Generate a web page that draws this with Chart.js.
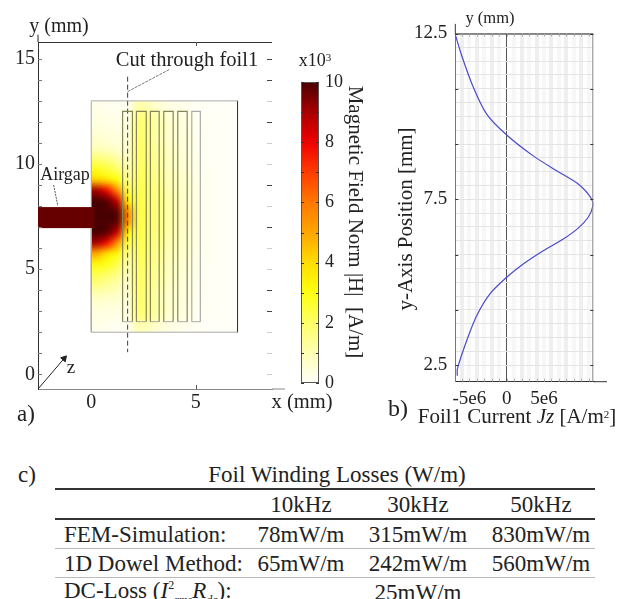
<!DOCTYPE html>
<html lang="en">
<head>
<meta charset="utf-8">
<title>Foil winding field and losses</title>
<script src="https://cdn.jsdelivr.net/npm/chart.js"></script>
<style>
  html, body { margin: 0; padding: 0; background: #fff; }
  body { width: 623px; height: 599px; position: relative; overflow: hidden; font-family: "Liberation Serif", serif; color: #222; }
  canvas { position: absolute; }
  .lbl { position: absolute; white-space: nowrap; line-height: 1; transform: translate(-50%, -50%); }
  #losses { position: absolute; left: 55px; top: 488px; width: 540px; border-collapse: collapse; font-size: 23px; table-layout: fixed; }
  #losses td { padding: 0; height: 28px; text-align: center; white-space: nowrap; line-height: 1; border-bottom: 1px solid #bbb; }
  #losses tr:nth-child(1) td { border-top: 2px solid #333; border-bottom: 2px solid #333; }
  #losses tr:last-child td { border-bottom: 0; }
  #losses td:first-child { text-align: left; padding-left: 9px; }
  sub { font-size: 12px; font-style: italic; } sup { font-size: 12px; }
</style>
</head>
<body>
<canvas id="fieldChart" width="290" height="430" style="left:0;top:0"></canvas>
<canvas id="barChart" width="56" height="340" style="left:290px;top:60px"></canvas>
<canvas id="currentChart" width="213" height="420" style="left:410px;top:10px"></canvas>
<div id="notes"></div>
<table id="losses"></table>

<script>
// a) field plot, all in mm
const xTicksA = [0, 5];
const yLabelsA = [0, 5, 10, 15];
const darkRightTicks = [15, 14, 12, 9, 7, 4, 3];

// |H| in kA/m, rows from y=12.75 down to y=2.25 (0.5 mm), columns x=0.25..6.75 (0.5 mm)
const fieldRows = [
  [0.2, 0.15, 0.1, 0.1, 1.1, 0.9, 0.5, 0.3, 0.2, 0.1, 0.04, 0.02, 0.01, 0],
  [0.3, 0.25, 0.2, 0.2, 1.7, 1.5, 0.9, 0.5, 0.35, 0.2, 0.08, 0.04, 0.02, 0.01],
  [0.4, 0.35, 0.3, 0.3, 1.9, 1.6, 1.0, 0.6, 0.4, 0.25, 0.1, 0.04, 0.02, 0.01],
  [0.6, 0.5, 0.4, 0.4, 1.9, 1.6, 1.0, 0.6, 0.45, 0.3, 0.12, 0.05, 0.03, 0.01],
  [0.9, 0.8, 0.6, 0.5, 2.0, 1.7, 1.1, 0.7, 0.5, 0.3, 0.12, 0.05, 0.03, 0.01],
  [1.8, 1.6, 1.2, 0.7, 2.0, 1.7, 1.2, 0.8, 0.55, 0.35, 0.15, 0.06, 0.03, 0.01],
  [2.8, 2.5, 2.0, 1.0, 2.1, 1.8, 1.3, 0.8, 0.6, 0.4, 0.15, 0.06, 0.03, 0.01],
  [4.2, 3.8, 3.0, 1.4, 2.2, 1.9, 1.4, 0.9, 0.7, 0.45, 0.18, 0.08, 0.04, 0.02],
  [9.0, 7.8, 5.5, 2.2, 2.3, 2.0, 1.5, 1.0, 0.75, 0.5, 0.2, 0.08, 0.04, 0.02],
  [10, 9.8, 8.5, 3.4, 2.4, 2.0, 1.6, 1.1, 0.8, 0.5, 0.2, 0.08, 0.04, 0.02],
  [10, 10, 9.8, 5.5, 2.4, 2.1, 1.6, 1.1, 0.8, 0.55, 0.2, 0.08, 0.04, 0.02],
  [10, 10, 9.8, 5.5, 2.4, 2.1, 1.6, 1.1, 0.8, 0.55, 0.2, 0.08, 0.04, 0.02],
  [10, 9.8, 8.5, 3.4, 2.4, 2.0, 1.6, 1.1, 0.8, 0.5, 0.2, 0.08, 0.04, 0.02],
  [9.0, 7.8, 5.5, 2.3, 2.3, 2.0, 1.5, 1.0, 0.75, 0.5, 0.2, 0.08, 0.04, 0.02],
  [5.0, 4.0, 3.2, 1.5, 2.2, 1.9, 1.4, 0.9, 0.7, 0.45, 0.18, 0.08, 0.04, 0.02],
  [3.2, 2.9, 2.3, 1.1, 2.1, 1.8, 1.3, 0.8, 0.6, 0.4, 0.15, 0.06, 0.03, 0.01],
  [2.3, 2.0, 1.6, 0.8, 2.0, 1.7, 1.2, 0.8, 0.55, 0.35, 0.15, 0.06, 0.03, 0.01],
  [1.6, 1.4, 1.1, 0.6, 2.0, 1.7, 1.1, 0.7, 0.5, 0.3, 0.12, 0.05, 0.03, 0.01],
  [0.9, 0.8, 0.7, 0.45, 1.9, 1.6, 1.0, 0.6, 0.45, 0.3, 0.12, 0.05, 0.03, 0.01],
  [0.5, 0.45, 0.4, 0.3, 1.9, 1.6, 1.0, 0.6, 0.4, 0.25, 0.1, 0.04, 0.02, 0.01],
  [0.3, 0.3, 0.2, 0.2, 1.7, 1.5, 0.9, 0.5, 0.35, 0.2, 0.08, 0.04, 0.02, 0.01],
  [0.2, 0.15, 0.1, 0.1, 1.0, 0.8, 0.5, 0.3, 0.2, 0.1, 0.04, 0.02, 0.01, 0]
];
const gapValue = 9.7;

// geometry of the model, mm
const coreLeft = 0, coreRight = 7, coreTop = 13, coreBottom = 2;
const gapTop = 7.95, gapBottom = 6.95;
const foilLeft = [1.5, 2.16, 2.83, 3.47, 4.14, 4.81];
const foilRight = [1.97, 2.63, 3.25, 3.92, 4.59, 5.22];
const foilTop = 12.5, foilBottom = 2.5;
const cutX = [1.74, 1.74], cutY = [14.15, 1.05];
const cutLeaderX = [1.74, 3.75], cutLeaderY = [13.44, 14.5];
const gapLeaderX = [-1.8, -1.6], gapLeaderY = [9, 8];
const zAxisX = [-2.55, -1.3], zAxisY = [-0.7, 0.75];

// colour scale
const barValues = [0, 1, 2, 3, 4, 5, 6, 7, 8, 9, 10];
const barColours = ['#fffff8', '#ffffb4', '#ffff66', '#ffff10', '#ffdd00', '#ffa500', '#ff7800', '#ff3c00', '#f00000', '#a80000', '#4a0000'];

// b) current density in the first foil
const currentX = [-6.83e6, -6.02e6, -4.47e6, -2.68e6, 0, 3.56e6, 6.69e6, 9.58e6, 11.38e6, 11.51e6, 10.92e6, 9.58e6, 7.58e6, 4.9e6, 2.22e6, 0, -2.24e6, -4.02e6, -5.35e6, -6.61e6, -6.61e6];
const currentY = [12.43, 11.83, 10.88, 10.07, 9.44, 8.81, 8.36, 7.96, 7.51, 7.27, 6.96, 6.63, 6.3, 5.95, 5.55, 5.15, 4.65, 3.99, 3.24, 2.38, 2.18];
const xGridB = [-6e6, -5e6, -4e6, -3e6, -2e6, -1e6, 0, 1e6, 2e6, 3e6, 4e6, 5e6, 6e6, 7e6, 8e6, 9e6, 10e6, 11e6];
const xLabelValuesB = [-5e6, 0, 5e6];
const xLabelsB = ['-5e6', '0', '5e6'];
const yLabelsB = [2.5, 7.5, 12.5];
const yMajorB = [2.5, 4.17, 5.83, 7.5, 9.17, 10.83, 12.5];

// c) table
const lossFreqs = ['10kHz', '30kHz', '50kHz'];
const femLosses = ['78mW/m', '315mW/m', '830mW/m'];
const dowelLosses = ['65mW/m', '242mW/m', '560mW/m'];
const dcLoss = '25mW/m';

Chart.defaults.font.family = '"Liberation Serif", serif';
Chart.defaults.color = '#222';
Chart.defaults.animation = false;

function colourAt(v) {
  const i = Math.min(barValues.length - 2, Math.floor(v));
  const t = v - barValues[i];
  const a = barColours[i], b = barColours[i + 1];
  return [1, 3, 5].map(p => {
    const ca = parseInt(a.substr(p, 2), 16), cb = parseInt(b.substr(p, 2), 16);
    return Math.round(ca + (cb - ca) * t);
  });
}

function path(xs, ys, extra) {
  return Object.assign({
    data: xs.map((x, i) => ({ x: x, y: ys[i] })),
    showLine: true, pointRadius: 0, borderWidth: 1, borderColor: '#999', clip: false
  }, extra);
}

const sets = [
  path([coreLeft, coreLeft, coreRight], [gapBottom, coreBottom, coreBottom], { borderColor: '#aaa' }),
  path([coreLeft, coreLeft, coreRight], [gapTop, coreTop, coreTop], { borderColor: '#aaa' }),
  path([coreRight, coreRight], [coreTop, coreBottom], { borderColor: '#333' })
];
foilLeft.forEach((l, i) => {
  sets.push(path([l, l, foilRight[i], foilRight[i]], [foilBottom, foilTop, foilTop, foilBottom], { borderColor: i == 5 ? '#aaa' : '#858555', borderWidth: 1.2 }));
  sets.push(path([l, foilRight[i]], [foilBottom, foilBottom], { borderColor: '#aaa' }));
});
sets.push(path(cutX, cutY, { borderColor: '#3a3a6a', borderDash: [5, 3] }));
sets.push(path(cutLeaderX, cutLeaderY, { borderColor: '#777', borderDash: [3, 1] }));
sets.push(path(gapLeaderX, gapLeaderY, { borderColor: '#555', borderDash: [2, 1] }));
sets.push(path(zAxisX, zAxisY, { borderColor: '#222', pointRadius: [0, 3.5], pointStyle: 'triangle', pointRotation: 41, pointBackgroundColor: '#222' }));
sets.push(path([-2.55, -2.55], [15.8, 16.15], { borderColor: '#222', pointRadius: [0, 3.5], pointStyle: 'triangle', pointBackgroundColor: '#222' }));
sets.push(path([8.65, 9.27], [-0.7, -0.7], { borderColor: '#888', pointRadius: [0, 3.5], pointStyle: 'triangle', pointRotation: 90, pointBackgroundColor: '#222' }));

// heat map goes under the outlines
const heatPlugin = {
  id: 'heat',
  beforeDatasetsDraw(chart) {
    const { ctx, scales: { x, y } } = chart;
    const rows = fieldRows.length, cols = fieldRows[0].length;
    const off = document.createElement('canvas');
    off.width = cols; off.height = rows;
    const oc = off.getContext('2d');
    const img = oc.createImageData(cols, rows);
    fieldRows.forEach((row, r) => row.forEach((v, c) => {
      const rgb = colourAt(v), k = (r * cols + c) * 4;
      img.data[k] = rgb[0]; img.data[k + 1] = rgb[1]; img.data[k + 2] = rgb[2]; img.data[k + 3] = 255;
    }));
    oc.putImageData(img, 0, 0);
    const px = x.getPixelForValue(coreLeft), py = y.getPixelForValue(coreTop);
    ctx.save();
    ctx.imageSmoothingEnabled = true;
    ctx.imageSmoothingQuality = 'high';
    ctx.drawImage(off, px, py, x.getPixelForValue(coreRight) - px, y.getPixelForValue(coreBottom) - py);
    const g = colourAt(gapValue);
    ctx.fillStyle = `rgb(${g[0]},${g[1]},${g[2]})`;
    const gy = y.getPixelForValue(gapTop);
    ctx.fillRect(x.left, gy, px + 3 - x.left, y.getPixelForValue(gapBottom) - gy);
    ctx.restore();
  },
  afterDatasetsDraw(chart) {
    const { ctx, scales: { x, y }, chartArea: a } = chart;
    ctx.save();
    ctx.lineWidth = 1;
    ctx.strokeStyle = '#333';
    ctx.beginPath();
    ctx.moveTo(a.left, a.top + 0.5); ctx.lineTo(a.right, a.top + 0.5);
    ctx.stroke();
    y.ticks.forEach(t => {
      const p = Math.round(y.getPixelForValue(t.value)) + 0.5;
      ctx.strokeStyle = '#777';
      ctx.beginPath(); ctx.moveTo(a.left, p); ctx.lineTo(a.left + 4, p); ctx.stroke();
      ctx.strokeStyle = darkRightTicks.includes(t.value) ? '#444' : '#ccc';
      ctx.beginPath(); ctx.moveTo(a.right - 5, p); ctx.lineTo(a.right, p); ctx.stroke();
    });
    const p5 = Math.round(x.getPixelForValue(5)) + 0.5;
    ctx.strokeStyle = '#555';
    ctx.beginPath();
    ctx.moveTo(p5, a.top); ctx.lineTo(p5, a.top + 4);
    ctx.moveTo(p5, a.bottom); ctx.lineTo(p5, a.bottom - 4);
    ctx.stroke();
    ctx.restore();
  }
};

new Chart(document.getElementById('fieldChart'), {
  type: 'scatter',
  data: { datasets: sets },
  plugins: [heatPlugin],
  options: {
    responsive: false,
    layout: { padding: { top: 42, right: 18, left: 0, bottom: 0 } },
    plugins: { legend: { display: false }, tooltip: { enabled: false } },
    scales: {
      x: {
        min: -2.55, max: 8.65,
        afterBuildTicks(s) { s.ticks = xTicksA.map(v => ({ value: v })); },
        afterFit(s) { s.height = 41; },
        border: { color: '#888' },
        grid: { drawOnChartArea: false, drawTicks: false },
        ticks: { font: { size: 20 }, padding: 2, maxRotation: 0, autoSkip: false, callback: v => String(v) }
      },
      y: {
        min: -0.7, max: 15.8,
        afterFit(s) { s.width = 38; },
        border: { color: '#333' },
        grid: { drawOnChartArea: false, drawTicks: false },
        ticks: { stepSize: 1, includeBounds: false, font: { size: 20 }, padding: 3, autoSkip: false, callback: v => yLabelsA.includes(v) ? String(v) : '' }
      }
    }
  }
});

// colour bar
const barPlugin = {
  id: 'barFrame',
  afterDatasetsDraw(chart) {
    const { ctx, scales: { y }, chartArea: a } = chart;
    ctx.save();
    ctx.strokeStyle = '#555';
    ctx.lineWidth = 1;
    ctx.strokeRect(a.left + 0.5, a.top + 0.5, a.right - a.left - 1, a.bottom - a.top - 1);
    ctx.strokeStyle = '#333';
    barValues.forEach(v => {
      const p = Math.round(y.getPixelForValue(v)) + 0.5;
      ctx.beginPath();
      ctx.moveTo(a.left, p); ctx.lineTo(a.left + 3, p);
      ctx.moveTo(a.right - 3, p); ctx.lineTo(a.right, p);
      ctx.stroke();
    });
    ctx.restore();
  }
};
new Chart(document.getElementById('barChart'), {
  type: 'bar',
  data: {
    labels: ['H'],
    datasets: [{
      data: [[0, 10]],
      barPercentage: 1, categoryPercentage: 1,
      backgroundColor(c) {
        const { chart } = c;
        if (!chart.chartArea) return '#fff';
        const y = chart.scales.y;
        const g = chart.ctx.createLinearGradient(0, y.getPixelForValue(0), 0, y.getPixelForValue(10));
        barValues.forEach((v, i) => g.addColorStop(v / 10, barColours[i]));
        return g;
      }
    }]
  },
  plugins: [barPlugin],
  options: {
    responsive: false,
    layout: { padding: { top: 22, left: 11, right: 0, bottom: 17 } },
    plugins: { legend: { display: false }, tooltip: { enabled: false } },
    scales: {
      x: { display: false },
      y: {
        position: 'right', min: 0, max: 10,
        afterFit(s) { s.width = 27; },
        border: { display: false },
        grid: { display: false, drawTicks: false },
        ticks: { stepSize: 2, font: { size: 18 }, padding: 6 }
      }
    }
  }
});

// current density profile
const currentPlugin = {
  id: 'currentFrame',
  afterDatasetsDraw(chart) {
    const { ctx, scales: { x, y }, chartArea: a } = chart;
    ctx.save();
    ctx.lineWidth = 1;
    ctx.strokeStyle = '#222';
    ctx.beginPath(); ctx.moveTo(a.left, a.top + 0.5); ctx.lineTo(a.right, a.top + 0.5); ctx.stroke();
    ctx.strokeStyle = '#888';
    ctx.beginPath(); ctx.moveTo(a.right - 0.5, a.top); ctx.lineTo(a.right - 0.5, a.bottom); ctx.stroke();
    ctx.strokeStyle = '#aaa';
    x.ticks.forEach(t => {
      const p = Math.round(x.getPixelForValue(t.value)) + 0.5;
      ctx.beginPath();
      ctx.moveTo(p, a.top); ctx.lineTo(p, a.top + 3);
      ctx.moveTo(p, a.bottom); ctx.lineTo(p, a.bottom - 3);
      ctx.stroke();
    });
    ctx.strokeStyle = '#333';
    yMajorB.forEach(v => {
      const p = Math.round(y.getPixelForValue(v)) + 0.5;
      ctx.beginPath();
      ctx.moveTo(a.left, p); ctx.lineTo(a.left + 3, p);
      ctx.moveTo(a.right - 3, p); ctx.lineTo(a.right, p);
      ctx.stroke();
    });
    ctx.restore();
  }
};
new Chart(document.getElementById('currentChart'), {
  type: 'scatter',
  data: {
    datasets: [
      path(currentX, currentY, { borderColor: '#4a4acb', borderWidth: 1.2, tension: 0.25 }),
      path([-6.88e6, -6.88e6], [12.5, 12.79], { borderColor: '#333', pointRadius: [0, 3], pointStyle: 'triangle', pointBackgroundColor: '#222' }),
      path([11.6e6, 13.43e6], [2, 2], { borderColor: '#333', pointRadius: [0, 3], pointStyle: 'triangle', pointRotation: 90, pointBackgroundColor: '#222' })
    ]
  },
  plugins: [currentPlugin],
  options: {
    responsive: false,
    layout: { padding: { top: 23.5, right: 29.7, left: 0, bottom: 0 } },
    plugins: { legend: { display: false }, tooltip: { enabled: false } },
    scales: {
      x: {
        min: -6.88e6, max: 11.6e6,
        afterBuildTicks(s) { s.ticks = xGridB.map(v => ({ value: v })); },
        afterFit(s) { s.height = 48.3; },
        border: { color: '#333' },
        grid: {
          drawTicks: false,
          color: c => c.tick.value === 0 ? '#555' : (Math.abs(c.tick.value) / 1e6 % 2 ? '#f7f7f7' : '#efefef'),
          lineWidth: c => c.tick.value === 0 ? 1 : 4
        },
        ticks: {
          font: { size: 19 }, padding: 6, maxRotation: 0, autoSkip: false,
          callback(v) { const i = xLabelValuesB.indexOf(v); return i < 0 ? '' : xLabelsB[i]; }
        }
      },
      y: {
        min: 2, max: 12.5,
        afterFit(s) { s.width = 45.3; },
        border: { color: '#777' },
        grid: { drawTicks: false, color: '#e4e4e4' },
        ticks: {
          stepSize: 5 / 12, font: { size: 19 }, padding: 8, autoSkip: false,
          callback(v) { const m = yLabelsB.find(l => Math.abs(l - v) < 1e-6); return m === undefined ? '' : String(m); }
        }
      }
    }
  }
});

// annotations
const notes = [
  ['y (mm)', 59, 25, 20, 0],
  ['Cut through foil1', 187, 59, 20.5, 0],
  ['Airgap', 65, 174, 18, 0],
  ['z', 71, 366, 19, 0],
  ['x (mm)', 302, 401, 20.5, 0],
  ['a)', 26, 413, 23, 0],
  ['x10<sup style="font-size:11px;vertical-align:5px">3</sup>', 315, 60, 18, 0],
  ['Magnetic Field Norm |H|&nbsp; [A/m]', 355, 222, 21, 90],
  ['y (mm)', 490, 18, 16.5, 0],
  ['y-Axis Position [mm]', 405, 219, 21, -90],
  ['b)', 398, 408, 24, 0],
  ['Foil1 Current <i>Jz</i> [A/m<sup style="font-size:11px;vertical-align:5px">2</sup>]', 517, 416, 21, 0],
  ['c)', 27, 474, 23, 0],
  ['Foil Winding Losses (W/m)', 337, 474, 23, 0]
];
const box = document.getElementById('notes');
notes.forEach(n => {
  const d = document.createElement('div');
  d.className = 'lbl';
  d.innerHTML = n[0];
  d.style.left = n[1] + 'px';
  d.style.top = n[2] + 'px';
  d.style.fontSize = n[3] + 'px';
  if (n[4]) d.style.transform = `translate(-50%,-50%) rotate(${n[4]}deg)`;
  box.appendChild(d);
});

const rowsHtml = [
  ['', ...lossFreqs],
  ['FEM-Simulation:', ...femLosses],
  ['1D Dowel Method:', ...dowelLosses]
].map(r => '<tr>' + r.map(c => `<td>${c}</td>`).join('') + '</tr>').join('');
document.getElementById('losses').innerHTML =
  '<colgroup><col style="width:198px"><col style="width:96px"><col style="width:138px"><col style="width:108px"></colgroup>' + rowsHtml +
  `<tr><td>DC-Loss (<i>I</i><sup>2</sup><sub>rms</sub><i>R</i><sub>dc</sub>):</td><td></td><td>${dcLoss}</td><td></td></tr>`;
</script>
</body>
</html>
